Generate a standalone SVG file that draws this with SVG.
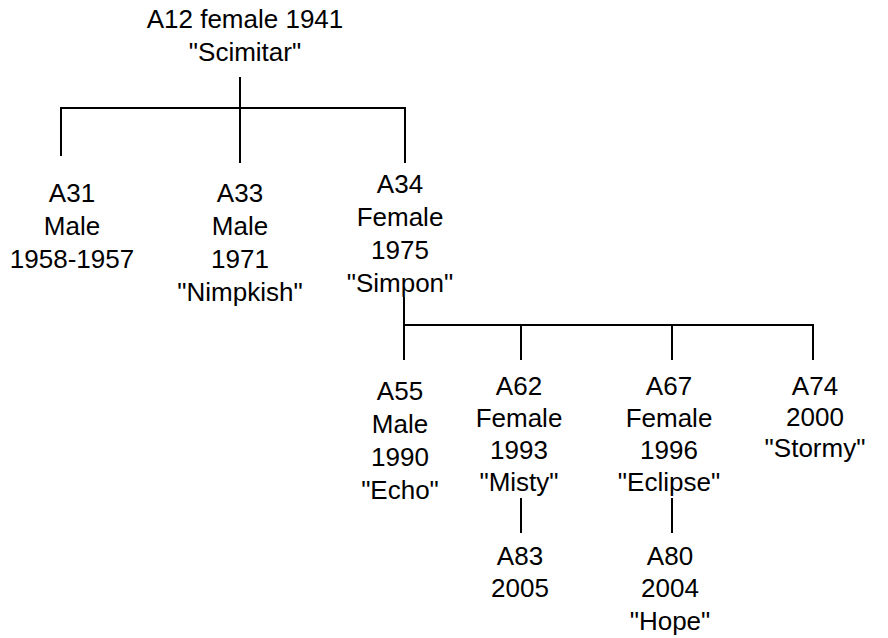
<svg xmlns="http://www.w3.org/2000/svg" width="888" height="638" viewBox="0 0 888 638">
<style>
text{font-family:"Liberation Sans",Arial,sans-serif;font-size:26px;fill:#000;text-anchor:middle}
.c{fill:none;stroke:#000;stroke-width:2}
</style>
<rect width="888" height="638" fill="#fff"/>
<g id="connectors" class="c">
<path d="M240 77V163"/>
<path d="M61 156V108H405V163"/>
<path d="M404 297V360"/>
<path d="M404 325H813V360"/>
<path d="M521 325V360"/>
<path d="M672 325V360"/>
<path d="M521 498V533"/>
<path d="M672 498V533"/>
</g>
<g id="A12"><text x="245" y="28">A12 female 1941</text><text x="245" y="61">"Scimitar"</text></g>
<g id="A31"><text x="72" y="202">A31</text><text x="72" y="235">Male</text><text x="72" y="268">1958-1957</text></g>
<g id="A33"><text x="240" y="202">A33</text><text x="240" y="235">Male</text><text x="240" y="268">1971</text><text x="240" y="301">"Nimpkish"</text></g>
<g id="A34"><text x="400" y="193">A34</text><text x="400" y="226">Female</text><text x="400" y="259">1975</text><text x="400" y="292">"Simpon"</text></g>
<g id="A55"><text x="400" y="400">A55</text><text x="400" y="433">Male</text><text x="400" y="466">1990</text><text x="400" y="499">"Echo"</text></g>
<g id="A62"><text x="519" y="395">A62</text><text x="519" y="427">Female</text><text x="519" y="459">1993</text><text x="519" y="491">"Misty"</text></g>
<g id="A67"><text x="669" y="395">A67</text><text x="669" y="427">Female</text><text x="669" y="459">1996</text><text x="669" y="491">"Eclipse"</text></g>
<g id="A74"><text x="815" y="395">A74</text><text x="815" y="426">2000</text><text x="815" y="457">"Stormy"</text></g>
<g id="A83"><text x="520" y="565">A83</text><text x="520" y="597">2005</text></g>
<g id="A80"><text x="670" y="565">A80</text><text x="670" y="597">2004</text><text x="670" y="630">"Hope"</text></g>
</svg>
